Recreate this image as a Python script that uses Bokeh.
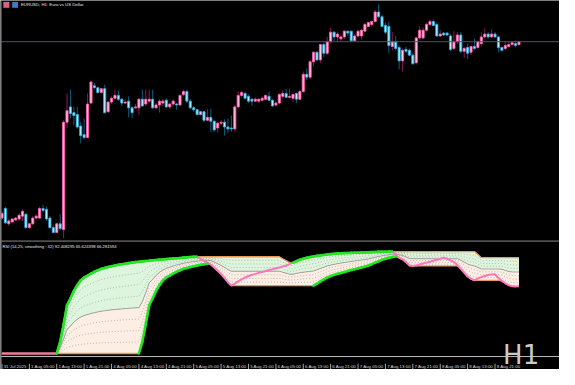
import numpy as np
import pandas as pd
from bokeh.plotting import figure
from bokeh.models import Range1d, Span, ColumnDataSource, Label, BoxAnnotation
from bokeh.core.properties import value
from bokeh.embed import file_html
from bokeh.resources import INLINE

# ---------------- data ----------------
open_ = [1.1493,1.1503,1.1487,1.1489,1.1491,1.1492,1.1495,1.1497,1.1483,1.1487,
         1.1493,1.1493,1.1503,1.1502,1.1493,1.1483,1.1478,1.1487,1.1481,1.1593,
         1.1609,1.1603,1.1601,1.1589,1.1580,1.1577,1.1613,1.1631,1.1629,1.1624,
         1.1628,1.1604,1.1614,1.1618,1.1621,1.1617,1.1613,1.1615,1.1608,1.1608,
         1.1608,1.1617,1.1612,1.1615,1.1617,1.1608,1.1611,1.1613,1.1616,1.1609,
         1.1612,1.1612,1.1611,1.1622,1.1625,1.1615,1.1608,1.1606,1.1601,1.1604,
         1.1595,1.1598,1.1594,1.1587,1.1592,1.1593,1.1588,1.1587,1.1586,1.1609,
         1.1621,1.1623,1.1620,1.1617,1.1615,1.1615,1.1616,1.1617,1.1620,1.1616,
         1.1611,1.1613,1.1620,1.1623,1.1619,1.1618,1.1623,1.1617,1.1625,1.1643,
         1.1640,1.1656,1.1666,1.1658,1.1674,1.1665,1.1677,1.1687,1.1682,1.1680,
         1.1682,1.1688,1.1688,1.1678,1.1683,1.1683,1.1688,1.1693,1.1695,1.1698,
         1.1708,1.1703,1.1694,1.1693,1.1672,1.1677,1.1671,1.1657,1.1669,1.1668,
         1.1663,1.1655,1.1681,1.1681,1.1689,1.1695,1.1698,1.1695,1.1683,1.1686,
         1.1686,1.1683,1.1670,1.1677,1.1684,1.1667,1.1671,1.1666,1.1672,1.1671,
         1.1675,1.1682,1.1685,1.1682,1.1685,1.1682,1.1671,1.1670,1.1672,1.1674,
         1.1675,1.1674]
high = [1.1500,1.1505,1.1492,1.1493,1.1494,1.1498,1.1502,1.1498,1.1488,1.1495,
        1.1497,1.1505,1.1507,1.1505,1.1495,1.1485,1.1488,1.1497,1.1595,1.1623,
        1.1627,1.1609,1.1609,1.1593,1.1597,1.1623,1.1636,1.1634,1.1630,1.1628,
        1.1632,1.1615,1.1620,1.1627,1.1626,1.1618,1.1617,1.1620,1.1610,1.1612,
        1.1618,1.1627,1.1627,1.1627,1.1627,1.1613,1.1617,1.1617,1.1618,1.1613,
        1.1617,1.1613,1.1622,1.1627,1.1627,1.1617,1.1610,1.1607,1.1605,1.1605,
        1.1607,1.1607,1.1595,1.1593,1.1595,1.1596,1.1597,1.1600,1.1611,1.1625,
        1.1626,1.1625,1.1622,1.1618,1.1619,1.1618,1.1620,1.1622,1.1625,1.1617,
        1.1615,1.1623,1.1626,1.1628,1.1628,1.1623,1.1624,1.1627,1.1646,1.1649,
        1.1658,1.1667,1.1667,1.1675,1.1676,1.1682,1.1692,1.1688,1.1687,1.1683,
        1.1689,1.1688,1.1688,1.1685,1.1689,1.1690,1.1697,1.1698,1.1699,1.1710,
        1.1716,1.1705,1.1697,1.1698,1.1687,1.1683,1.1673,1.1670,1.1672,1.1670,
        1.1665,1.1682,1.1693,1.1692,1.1697,1.1700,1.1700,1.1697,1.1689,1.1687,
        1.1687,1.1685,1.1688,1.1687,1.1687,1.1672,1.1675,1.1673,1.1680,1.1678,
        1.1687,1.1691,1.1687,1.1690,1.1687,1.1683,1.1672,1.1677,1.1677,1.1677,
        1.1678,1.1678]
low = [1.1492,1.1487,1.1485,1.1488,1.1490,1.1490,1.1490,1.1482,1.1482,1.1486,
       1.1492,1.1492,1.1499,1.1490,1.1482,1.1477,1.1477,1.1480,1.1472,1.1587,
       1.1597,1.1590,1.1586,1.1571,1.1575,1.1576,1.1612,1.1628,1.1623,1.1623,
       1.1602,1.1603,1.1612,1.1617,1.1615,1.1610,1.1612,1.1598,1.1597,1.1607,
       1.1601,1.1609,1.1610,1.1613,1.1607,1.1607,1.1603,1.1610,1.1608,1.1607,
       1.1610,1.1606,1.1610,1.1620,1.1613,1.1607,1.1604,1.1600,1.1600,1.1593,
       1.1594,1.1583,1.1583,1.1582,1.1590,1.1579,1.1582,1.1583,1.1583,1.1608,
       1.1619,1.1617,1.1613,1.1610,1.1614,1.1613,1.1615,1.1616,1.1615,1.1609,
       1.1609,1.1612,1.1618,1.1618,1.1618,1.1614,1.1613,1.1616,1.1624,1.1637,
       1.1638,1.1651,1.1657,1.1655,1.1661,1.1663,1.1675,1.1678,1.1677,1.1678,
       1.1680,1.1683,1.1677,1.1677,1.1682,1.1679,1.1687,1.1692,1.1693,1.1697,
       1.1702,1.1692,1.1685,1.1665,1.1668,1.1668,1.1648,1.1646,1.1665,1.1662,
       1.1653,1.1653,1.1679,1.1680,1.1688,1.1693,1.1693,1.1682,1.1682,1.1683,
       1.1683,1.1667,1.1668,1.1675,1.1665,1.1660,1.1659,1.1663,1.1668,1.1669,
       1.1673,1.1681,1.1680,1.1681,1.1681,1.1666,1.1667,1.1668,1.1671,1.1673,
       1.1671,1.1673]
close = [1.1498,1.1488,1.1490,1.1492,1.1493,1.1496,1.1500,1.1483,1.1487,1.1493,
         1.1495,1.1503,1.1501,1.1492,1.1483,1.1478,1.1487,1.1482,1.1593,1.1605,
         1.1602,1.1600,1.1588,1.1579,1.1577,1.1612,1.1635,1.1629,1.1624,1.1628,
         1.1603,1.1614,1.1618,1.1621,1.1617,1.1613,1.1614,1.1608,1.1603,1.1609,
         1.1617,1.1610,1.1617,1.1617,1.1608,1.1611,1.1615,1.1615,1.1609,1.1612,
         1.1615,1.1611,1.1621,1.1625,1.1615,1.1608,1.1606,1.1601,1.1604,1.1595,
         1.1598,1.1594,1.1585,1.1592,1.1593,1.1588,1.1586,1.1586,1.1609,1.1621,
         1.1624,1.1618,1.1615,1.1615,1.1617,1.1617,1.1618,1.1621,1.1616,1.1610,
         1.1613,1.1622,1.1623,1.1619,1.1620,1.1622,1.1617,1.1625,1.1643,1.1640,
         1.1656,1.1666,1.1658,1.1674,1.1665,1.1677,1.1687,1.1682,1.1685,1.1682,
         1.1688,1.1686,1.1678,1.1683,1.1688,1.1689,1.1695,1.1697,1.1698,1.1708,
         1.1703,1.1693,1.1687,1.1673,1.1677,1.1670,1.1657,1.1668,1.1667,1.1663,
         1.1654,1.1681,1.1689,1.1689,1.1695,1.1698,1.1694,1.1683,1.1685,1.1684,
         1.1684,1.1669,1.1677,1.1684,1.1667,1.1670,1.1665,1.1672,1.1670,1.1677,
         1.1682,1.1685,1.1682,1.1685,1.1682,1.1671,1.1668,1.1673,1.1674,1.1676,
         1.1673,1.1677]
rsi = [0.0]*17 + [
    11.4, 28.0, 46.5, 53.0, 60.3, 65.9, 70.5, 73.3, 75.1, 77.0, 78.8, 80.2, 81.6,
    82.5, 83.4, 84.2, 84.8, 85.5, 86.0, 86.6, 87.1, 87.6, 88.1,
    88.4, 88.8, 89.2, 89.5, 89.9, 90.2, 90.5, 90.7, 91.0, 91.3,
    91.6, 91.9, 92.1, 92.4, 92.7, 93.0, 93.2, 93.3, 91.3, 89.5,
    87.6, 85.8, 83.0, 79.8, 76.5, 72.8, 68.7, 65.4, 67.3, 69.6,
    71.4, 73.3, 74.7, 75.8, 76.8, 77.7, 78.6, 79.6, 80.5, 81.3,
    82.2, 83.0, 83.9, 84.8, 86.2, 87.6, 89.0, 90.4, 91.3, 92.2,
    93.0, 93.6, 94.1, 94.5, 95.0, 95.5, 95.8, 96.1, 96.4, 96.6,
    96.8, 96.9, 97.0, 97.1, 97.2, 97.3, 97.4, 97.5, 97.7, 97.9,
    98.0, 98.05, 98.1, 98.2, 98.3, 95.5, 92.2, 90.8, 88.1, 84.8,
    84.4, 84.8, 85.8, 86.7, 87.6, 88.5, 89.5, 90.4, 91.3, 92.41,
    91.3, 89.9, 88.1, 85.3, 81.6, 77.9, 74.2, 71.9, 70.5, 72.4,
    73.7, 74.7, 75.6, 76.1, 76.3, 72.8, 70.0, 67.7, 65.9, 64.8,
    64.7, 64.8]
tick_bars = [0, 8, 16, 24, 32, 40, 48, 56, 64, 72, 80, 88, 96, 104, 112, 120, 128, 136, 144]
tick_labels = ["31 Jul 2025", "1 Aug 05:00", "1 Aug 13:00", "1 Aug 21:00", "4 Aug 05:00",
               "4 Aug 13:00", "4 Aug 21:00", "5 Aug 05:00", "5 Aug 13:00", "5 Aug 21:00",
               "6 Aug 05:00", "6 Aug 13:00", "6 Aug 21:00", "7 Aug 05:00", "7 Aug 13:00",
               "7 Aug 21:00", "8 Aug 05:00", "8 Aug 13:00", "8 Aug 21:00"]
RSI_PERIOD, CHANNEL, SMOOTH = 14, 25, 32

# ---------------- layout helpers (reference pixel space -> data) ----------------
W, H = 559, 369
REF_W, REF_H = 575, 385
SX, SY = W / REF_W, H / REF_H
def bar_at(x): return (x - 1.5) / 3.522
def price_at(y): return 1.1720 - y / 10000.0
def rsi_at(y): return (368.3 - y) / 1.0821
def scr_x(x): return x * SX
def scr_y(y): return H - y * SY

p = figure(width=W, height=H, output_backend="svg", toolbar_location=None,
           x_range=Range1d(bar_at(0), bar_at(REF_W)),
           y_range=Range1d(price_at(REF_H), price_at(0)),
           x_axis_location=None, y_axis_location=None,
           min_border=0, background_fill_color="black", border_fill_color="black",
           outline_line_color=None)
p.grid.visible = False
p.extra_y_ranges = {"rsi": Range1d(rsi_at(REF_H), rsi_at(0))}

idx = np.arange(len(open_))
o, h, l, c = map(np.array, (open_, high, low, close))
bull = c >= o
src = ColumnDataSource(dict(
    x=idx, high=h, low=l, top=np.maximum(o, c), bottom=np.minimum(o, c),
    wick=np.where(bull, "#8e1656", "#0d5d7e"),
    fill=np.where(bull, "#ffc8e6", "#b8f2ff"),
    edge=np.where(bull, "#ff5aa8", "#2aaee0")))

# current price line
p.add_layout(Span(location=close[-1], dimension="width", line_color="#4d5462", line_width=1))

p.segment(x0="x", y0="high", x1="x", y1="low", line_color="wick", line_width=1, source=src)
p.vbar(x="x", width=0.62, top="top", bottom="bottom", fill_color="fill",
       line_color="edge", line_width=0.9, source=src)

# ---------------- RSI channel ----------------
r = pd.Series(rsi)
U = r.rolling(CHANNEL, min_periods=1).max().to_numpy()
L = r.rolling(CHANNEL, min_periods=1).min().to_numpy()
M = (U + L) / 2
R = r.to_numpy()

p.varea(x=idx, y1=M, y2=U, fill_color="#dcf5dc", y_range_name="rsi")
p.varea(x=idx, y1=L, y2=M, fill_color="#fdeee3", y_range_name="rsi")
for k in (1, 2, 3, 5, 6, 7):
    p.line(idx, L + (U - L) * k / 8, line_color="#a9a9a9", line_width=0.8,
           line_dash="1 2", y_range_name="rsi")
p.line(idx, M, line_color="#a6a6a6", line_width=1, y_range_name="rsi")
p.line(idx, U, line_color="#e39a5c", line_width=1.3, y_range_name="rsi")
p.line(idx, L, line_color="#e39a5c", line_width=1.3, y_range_name="rsi")
p.line(idx, R, line_color="#ff74bc", line_width=2, y_range_name="rsi")
for band in (U, L):
    up = np.where(np.diff(band) > 1e-6)[0]
    p.segment(x0=idx[up], y0=band[up], x1=idx[up + 1], y1=band[up + 1],
              line_color="#1ee81e", line_width=2.6, line_cap="round", y_range_name="rsi")

# ---------------- frame lines ----------------
p.add_layout(Span(location=price_at(251), dimension="width", line_color="#8a8a8a", line_width=1))
p.add_layout(Span(location=rsi_at(371.5), dimension="width", line_color="#bdbdbd",
                  line_width=1, y_range_name="rsi"))
p.add_layout(Span(location=bar_at(0.6), dimension="height", line_color="#7a7a7a", line_width=1))

# chart-window icons (top-left)
p.add_layout(BoxAnnotation(left=bar_at(3), right=bar_at(9), top=price_at(1.5), bottom=price_at(7.5),
                           fill_color="#d8628e", fill_alpha=1, line_color="#7aa0e0", line_width=0.6))
p.add_layout(BoxAnnotation(left=bar_at(12), right=bar_at(18), top=price_at(1.5), bottom=price_at(7.5),
                           fill_color="#3d78d0", fill_alpha=1, line_color="#e05050", line_width=0.6))

# ---------------- time axis ----------------
tb = np.array(tick_bars)
p.segment(x0=tb, y0=rsi_at(379), x1=tb, y1=rsi_at(384.5), line_color="#cfcfcf",
          line_width=0.8, y_range_name="rsi")
p.text(x=tb + 0.5, y=rsi_at(382), text=tick_labels, text_color="#d8d8d8",
       text_font=value("Liberation Sans"), text_font_size="4.4px",
       text_baseline="middle", text_align="left", y_range_name="rsi")

# ---------------- texts ----------------
p.add_layout(Label(x=scr_x(21), y=scr_y(4.2), text="EURUSD, H1:  Euro vs US Dollar",
                   text_color="#e6e6e6", text_font="Liberation Sans", text_font_size="4.3px",
                   text_baseline="middle", x_units="screen", y_units="screen"))
p.add_layout(Label(x=scr_x(2), y=scr_y(256.5),
                   text=f"RSI ({RSI_PERIOD},{CHANNEL}, smoothing : {SMOOTH}) 92.408295 65.624398 66.281594",
                   text_color="#e6e6e6", text_font="Liberation Sans", text_font_size="4.2px",
                   text_baseline="middle", x_units="screen", y_units="screen"))
p.add_layout(Label(x=scr_x(517), y=scr_y(370), text="H1", text_color="#cacaca",
                   text_font="DejaVu Sans", text_font_size="26px",
                   text_baseline="alphabetic", x_units="screen", y_units="screen"))

open("out.html", "w").write(file_html(p, INLINE))
